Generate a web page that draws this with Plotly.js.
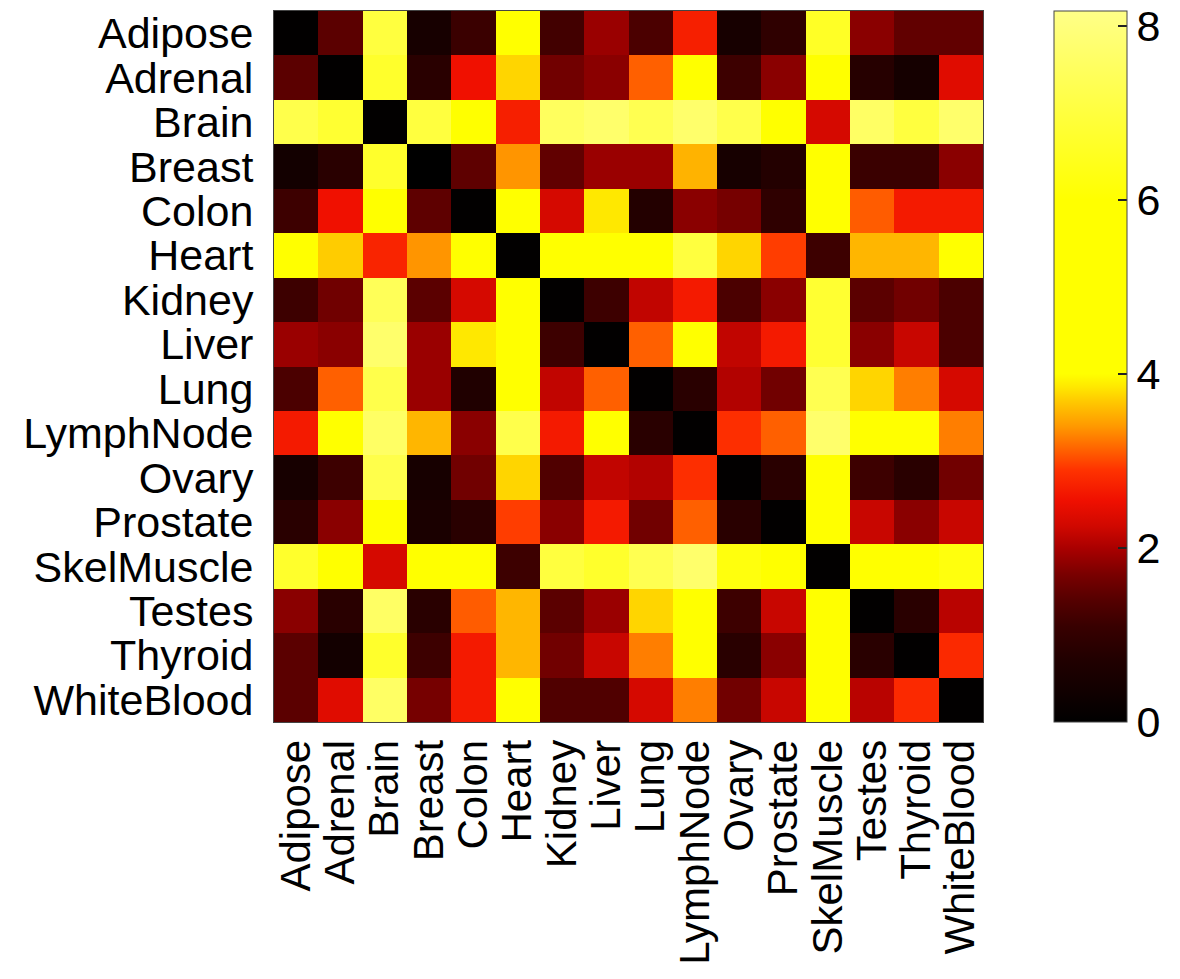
<!DOCTYPE html>
<html>
<head>
<meta charset="utf-8">
<script src="https://cdn.plot.ly/plotly-3.0.1.min.js"></script>
<style>html,body{margin:0;padding:0;background:#fff;}#chart{width:1180px;height:979px;}</style>
</head>
<body>
<div id="chart"></div>
<script>
const tissues = ["Adipose","Adrenal","Brain","Breast","Colon","Heart","Kidney","Liver","Lung","LymphNode","Ovary","Prostate","SkelMuscle","Testes","Thyroid","WhiteBlood"];

const rowAdipose    = [0.05,1.45,7.0,0.5,1.12,5.5,1.2,1.9,1.3,2.7,0.5,0.95,6.6,1.8,1.5,1.5];
const rowAdrenal    = [1.45,0.05,6.7,0.85,2.55,3.75,1.63,1.8,3.12,5.0,1.15,1.8,5.5,0.8,0.45,2.4];
const rowBrain      = [7.2,6.8,0.05,7.0,5.8,2.7,7.5,7.7,7.3,7.7,7.2,5.9,2.3,7.6,7.0,7.7];
const rowBreast     = [0.4,0.85,6.7,0.0,1.47,3.38,1.5,1.9,1.9,3.55,0.5,0.75,5.5,1.12,1.12,1.8];
const rowColon      = [1.15,2.55,5.8,1.47,0.05,5.5,2.3,3.85,0.75,1.8,1.67,0.95,5.5,3.1,2.65,2.65];
const rowHeart      = [5.8,3.7,2.75,3.38,5.5,0.05,5.5,5.5,5.6,7.0,3.75,2.95,1.15,3.57,3.57,5.8];
const rowKidney     = [1.15,1.62,7.4,1.45,2.3,5.5,0.05,1.15,2.15,2.65,1.3,1.8,6.8,1.45,1.63,1.3];
const rowLiver      = [1.9,1.8,7.7,1.9,3.85,5.5,1.15,0.05,3.12,5.5,2.15,2.65,6.8,1.8,2.2,1.3];
const rowLung       = [1.3,3.12,7.2,1.9,0.7,5.5,2.15,3.12,0.05,0.85,2.05,1.63,7.3,3.75,3.27,2.3];
const rowLymphNode  = [2.65,5.5,7.6,3.57,1.8,7.2,2.65,5.5,0.85,0.05,2.85,3.12,7.7,5.5,5.5,3.27];
const rowOvary      = [0.5,1.15,7.2,0.5,1.63,3.75,1.35,2.15,2.05,2.85,0.05,0.85,5.5,1.15,0.85,1.63];
const rowProstate   = [0.85,1.8,5.8,0.55,0.85,2.95,1.8,2.65,1.63,3.12,0.85,0.05,5.5,2.2,1.8,2.2];
const rowSkelMuscle = [6.7,6.0,2.3,5.5,5.5,1.15,7.0,6.7,7.3,7.7,6.2,5.5,0.05,5.5,5.5,6.2];
const rowTestes     = [1.8,0.85,7.6,0.85,3.1,3.57,1.45,1.9,3.75,5.5,1.15,2.2,5.5,0.05,0.85,2.1];
const rowThyroid    = [1.45,0.4,6.7,1.15,2.65,3.57,1.63,2.2,3.27,5.5,0.85,1.8,5.5,0.85,0.05,2.8];
const rowWhiteBlood = [1.45,2.4,7.6,1.67,2.65,5.5,1.35,1.35,2.3,3.27,1.63,2.2,5.5,2.1,2.8,0.05];

const zValues = [rowAdipose,rowAdrenal,rowBrain,rowBreast,rowColon,rowHeart,rowKidney,rowLiver,rowLung,rowLymphNode,rowOvary,rowProstate,rowSkelMuscle,rowTestes,rowThyroid,rowWhiteBlood];

const colorTickVals = [0,2,4,6,8];
const zMin = 0, zMax = 8.17;

// colour stops (value, colour)
const stopVals = [0,0.33,0.7,1.1,1.4,1.7,2.0,2.25,2.55,2.9,3.15,3.4,3.7,3.85,4.0,6.0,8.17];
const stopCols = ["#000000","#100000","#200000","#380000","#550000","#7a0000","#aa0000","#d00800","#f01000","#ff3300","#ff6600","#ff9900","#ffcc00","#ffe800","#ffff00","#ffff00","#ffff88"];
const colorscale = stopVals.map((v,i)=>[v/zMax, stopCols[i]]);

const FONT = '"Liberation Sans", Arial, Helvetica, sans-serif';

const trace = {
  type: 'heatmap',
  x: tissues,
  y: tissues,
  z: zValues,
  zmin: zMin,
  zmax: zMax,
  zsmooth: false,
  colorscale: colorscale,
  colorbar: {
    x: 1.0986, xanchor: 'left',
    y: 0.5, yanchor: 'middle',
    len: 1, lenmode: 'fraction',
    thickness: 73, thicknessmode: 'pixels',
    outlinecolor: '#444', outlinewidth: 1,
    tickmode: 'array',
    tickvals: colorTickVals,
    ticktext: colorTickVals.map(String),
    ticks: 'inside', ticklen: 9, tickcolor: '#222', tickwidth: 2,
    tickfont: {family: FONT, size: 43, color: '#000'},
    xpad: 0, ypad: 0
  }
};

const layout = {
  width: 1180, height: 979,
  margin: {l: 274, r: 196, t: 11, b: 257, pad: 0},
  paper_bgcolor: '#fff', plot_bgcolor: '#fff',
  font: {family: FONT, color: '#000'},
  xaxis: {
    type: 'category',
    tickmode: 'array', tickvals: tissues, ticktext: tissues,
    tickangle: -90,
    tickfont: {family: FONT, size: 42, color: '#000'},
    showline: true, mirror: true, linecolor: '#444', linewidth: 1,
    ticks: '', showgrid: false, zeroline: false, ticklabelstandoff: 0
  },
  yaxis: {
    type: 'category',
    tickmode: 'array', tickvals: tissues, ticktext: tissues,
    autorange: 'reversed',
    tickfont: {family: FONT, size: 43, color: '#000'},
    showline: true, mirror: true, linecolor: '#444', linewidth: 1,
    ticks: '', showgrid: false, zeroline: false, ticklabelstandoff: 11
  },
  showlegend: false
};

Plotly.newPlot('chart', [trace], layout, {displayModeBar: false, staticPlot: true});
</script>
</body>
</html>
